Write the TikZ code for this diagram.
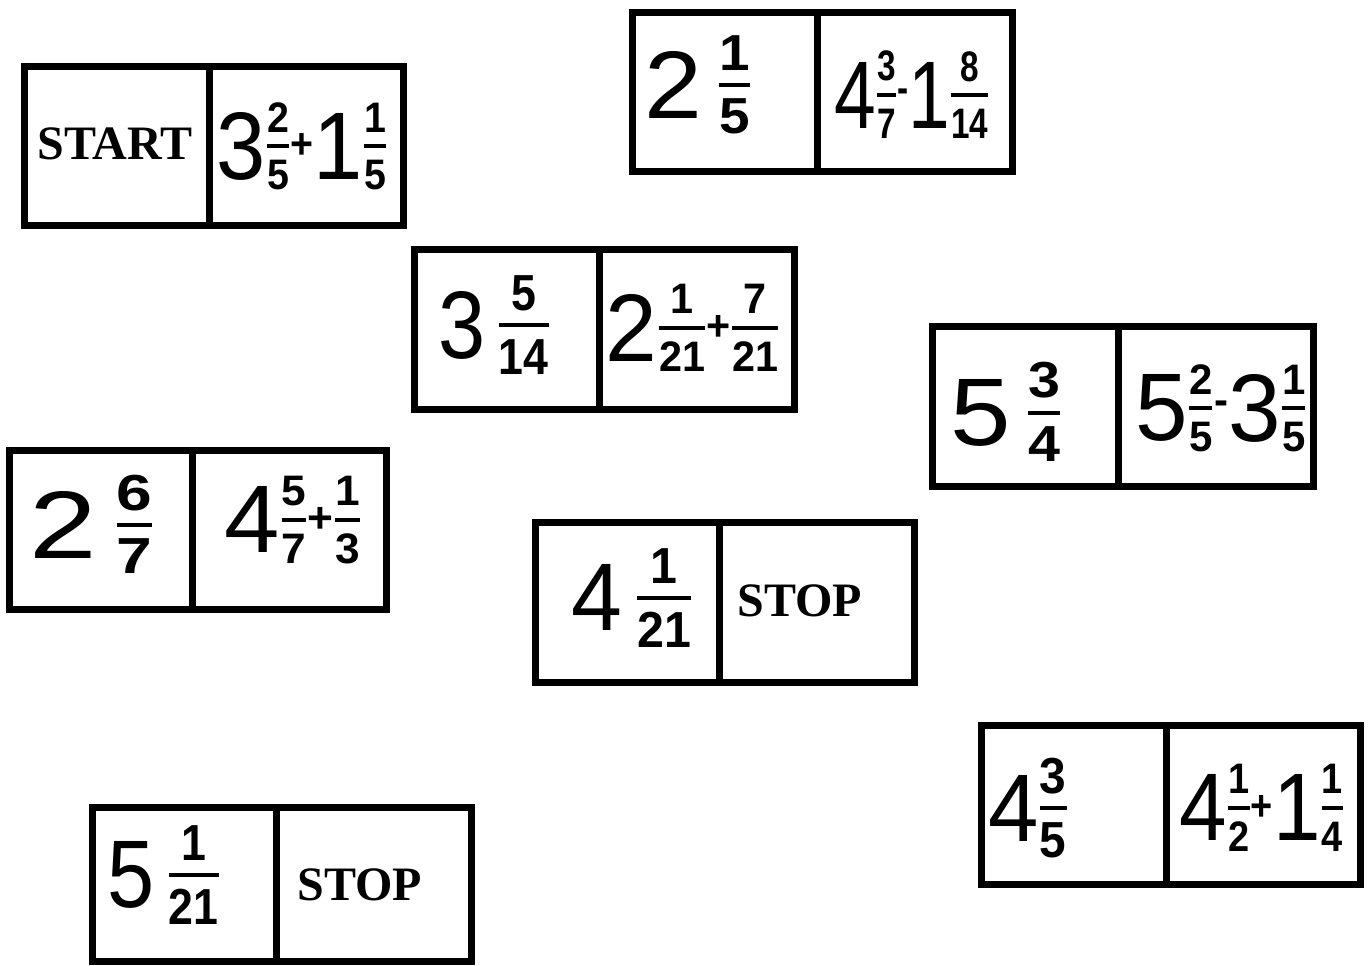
\documentclass[tikz,border=0pt]{standalone}
\usepackage{fontspec}
\usepackage{amsmath}
\usepackage{graphicx}
\setmainfont{Liberation Serif}
\newfontfamily\hwfont{Liberation Sans}
\newdimen\px \px=0.75pt
\def\wsz{72}
\def\fsz{32}
\newcommand\W[1]{\ensuremath{\vcenter{\hbox{\hwfont\fontsize{\wsz}{\wsz}\selectfont #1}}}}
\newcommand\F[2]{\ensuremath{\genfrac{}{}{3pt}{0}{\hbox{\hwfont\bfseries\fontsize{\fsz}{\fsz}\selectfont #1}}{\hbox{\hwfont\bfseries\fontsize{\fsz}{\fsz}\selectfont #2}}}}
\newcommand\Op[1]{\ensuremath{\vcenter{\hbox{\hwfont\bfseries\fontsize{\fsz}{\fsz}\selectfont #1}}}}
\newcommand\Sp{\hspace{14\px}}
\newcommand\fit[2]{\resizebox{#1\px}{\height}{#2}}
\newcommand\Lv[2]{\fit{#1}{\def\fsz{38}#2}}
\newcommand\Rv[2]{\fit{#1}{\def\fsz{32}#2}}
\tikzset{
  cell/.style={draw=black, line width=5.25pt, inner sep=0pt, outer sep=0pt, anchor=north west, fill=none},
  hw/.style={inner sep=0pt, anchor=center},
  word/.style={inner sep=0pt, anchor=center, font=\fontsize{36}{36}\selectfont\bfseries}
}
% domino: prefix, x1, y1, xd, x2, y2
\newcommand\domino[6]{%
  \node[cell, minimum width={(#4-#2)*\px}, minimum height={(#6-#3)*\px}] (#1l) at (#2,#3) {};
  \node[cell, minimum width={(#5-#4)*\px}, minimum height={(#6-#3)*\px}] (#1r) at (#4,#3) {};
}
\begin{document}
\begin{tikzpicture}[x=0.75pt, y=-0.75pt]
\fill[white] (0,0) rectangle (1370,965);
\useasboundingbox (0,0) rectangle (1370,965);

\domino{a}{24.5}{66.5}{209}{403.5}{225}
\domino{b}{632}{12}{817}{1012}{171}
\domino{c}{414}{249}{599}{794}{409}
\domino{d}{932}{326}{1118}{1313}{486}
\domino{e}{9}{450}{192}{386}{609}
\domino{f}{535}{522}{719}{914}{682}
\domino{g}{981}{725}{1166}{1360}{884}
\domino{h}{92}{807}{276}{471}{961}

% texts
\node[word] (ta) at (115,144) {START};
\node[hw] (tar) at (302,146) {\Rv{171}{\W{3}\F{2}{5}\Op{+}\W{1}\F{1}{5}}};

\node[hw] (tbl) at (698,85) {\Lv{107}{\W{2}\Sp\F{1}{5}}};
\node[hw] (tbr) at (912,95) {\Rv{155}{\W{4}\F{3}{7}\Op{-}\W{1}\F{8}{14}}};

\node[hw] (tcl) at (494,325) {\Lv{112}{\W{3}\Sp\F{5}{14}}};
\node[hw] (tcr) at (693,328) {\Rv{174}{\W{2}\F{1}{21}\Op{+}\F{7}{21}}};

\node[hw] (tdl) at (1006,412) {\Lv{112}{\W{5}\Sp\F{3}{4}}};
\node[hw] (tdr) at (1221,408) {\Rv{172}{\W{5}\F{2}{5}\Op{-}\W{3}\F{1}{5}}};

\node[hw] (tel) at (92,524) {\Lv{125}{\W{2}\Sp\F{6}{7}}};
\node[hw] (ter) at (293,520) {\Rv{137}{\W{4}\F{5}{7}\Op{+}\F{1}{3}}};

\node[hw] (tfl) at (632,598) {\Lv{121}{\W{4}\Sp\F{1}{21}}};
\node[word] (tfr) at (800,601) {STOP};

\node[hw] (tgl) at (1028,808) {\Lv{80}{\W{4}\F{3}{5}}};
\node[hw] (tgr) at (1262,808) {\Rv{165}{\W{4}\F{1}{2}\Op{+}\W{1}\F{1}{4}}};

\node[hw] (thl) at (164,875) {\Lv{112}{\W{5}\Sp\F{1}{21}}};
\node[word] (thr) at (360,885) {STOP};
\end{tikzpicture}
\end{document}
